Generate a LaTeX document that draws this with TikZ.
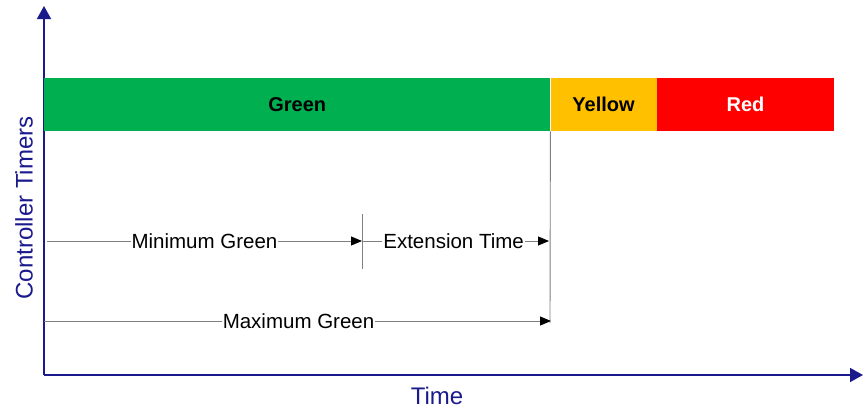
\documentclass[tikz,border=0pt]{standalone}
\usepackage{fontspec}
\setmainfont{Liberation Sans}
\usetikzlibrary{arrows.meta}
\definecolor{axisblue}{RGB}{26,26,140}
\definecolor{phgreen}{RGB}{0,176,80}
\definecolor{phyellow}{RGB}{255,192,0}
\definecolor{phred}{RGB}{255,0,0}
\definecolor{tgray}{RGB}{128,128,128}
\begin{document}
\begin{tikzpicture}[x=1pt,y=-1pt,
  axis/.style={draw=axisblue,line width=1.5pt,-{Triangle[length=13pt,width=14pt]}},
  axislabel/.style={text=axisblue,font=\fontsize{24}{28}\selectfont,inner sep=0pt},
  phase/.style={rectangle,draw=none,minimum height=53pt,inner sep=0pt,anchor=north west,
    font=\fontsize{20}{24}\selectfont\bfseries},
  timer/.style={draw=tgray,line width=0.9pt,-{Triangle[length=11pt,width=9pt,color=black]}},
  timerlabel/.style={fill=white,inner sep=1pt,font=\fontsize{20.5}{24}\selectfont},
  marker/.style={draw=tgray,line width=0.9pt}]
\useasboundingbox (0,0) rectangle (863,410);

% axes
\coordinate (origin) at (44,375);
\coordinate (ytop) at (44,6);
\coordinate (xend) at (863,375);
\draw[axis] (origin) -- (ytop);
\draw[axis] (origin) -- (xend);
\node[axislabel] (tlabel) at (437,396) {Time};
\node[axislabel,rotate=90] (clabel) at (24,208) {Controller Timers};

% signal phases
\node[phase,fill=phgreen,minimum width=506pt] (green) at (44,78) {Green};
\node[phase,fill=phyellow,minimum width=106pt] (yellow) at (green.north east) {Yellow};
\node[phase,fill=phred,minimum width=177pt,text=white] (red) at (yellow.north east) {Red};

% end of green marker
\coordinate (gend) at (550,323);
\draw[marker] (green.south east) -- (gend);

% minimum green + extension
\coordinate (minstart) at (47,241);
\coordinate (extmark) at (362,241);
\coordinate (extend) at (549,241);
\draw[marker] (362,214) -- (362,269);
\draw[timer] (minstart) -- node[timerlabel] (minlabel) {Minimum Green} (extmark);
\draw[timer] (extmark) -- node[timerlabel,pos=0.49] (extlabel) {Extension Time} (extend);

% maximum green
\coordinate (maxstart) at (44,321);
\coordinate (maxend) at (551,321);
\draw[timer] (maxstart) -- node[timerlabel,pos=0.502] (maxlabel) {Maximum Green} (maxend);
\end{tikzpicture}
\end{document}
